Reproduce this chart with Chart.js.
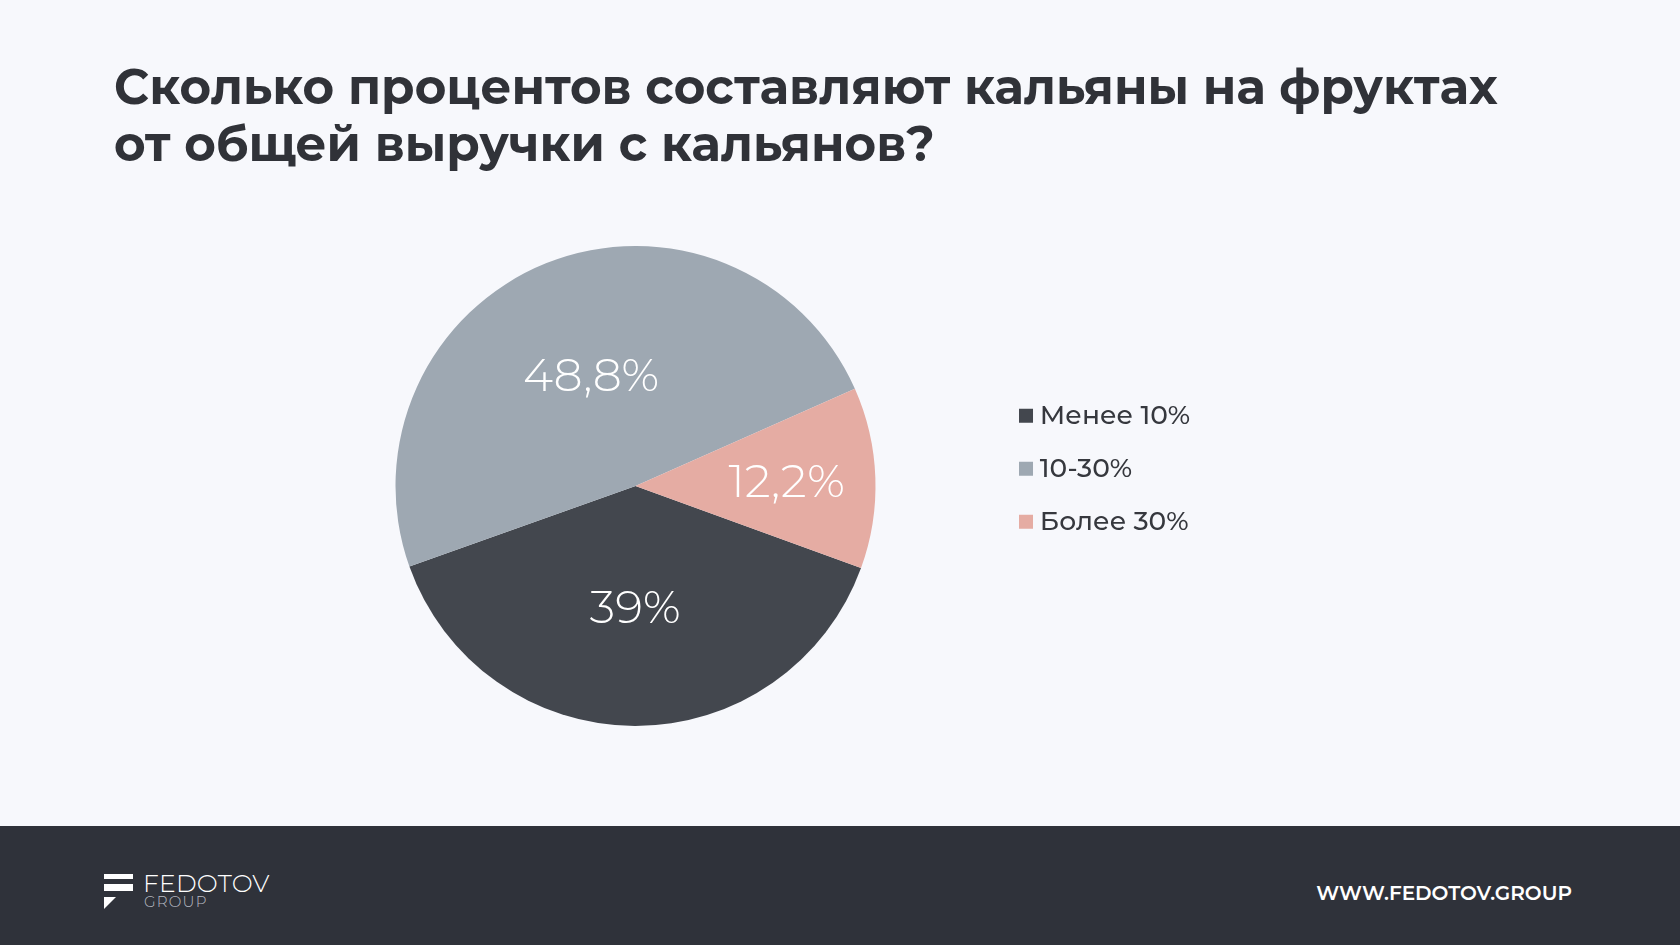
<!DOCTYPE html>
<html lang="ru">
<head>
<meta charset="utf-8">
<title>Кальяны на фруктах</title>
<script src="https://cdn.jsdelivr.net/npm/chart.js@4.4.1/dist/chart.umd.min.js"></script>
<style>
  html, body { margin: 0; padding: 0; }
  body {
    width: 1680px; height: 945px; position: relative; overflow: hidden;
    background: #f7f8fc;
    font-family: 'Montserrat', 'Inter', sans-serif;
  }
  #title {
    position: absolute; left: 114px; top: 58px;
    font-size: 48.4px; font-weight: 700; line-height: 57px;
    color: #303238;
  }
  #wrap { position: absolute; left: 272px; top: 246px; width: 960px; height: 480px; }
  #footer {
    position: absolute; left: 0; top: 826px; width: 1680px; height: 119px;
    background: #2f323a;
  }
  .bar { position: absolute; left: 104px; width: 29px; background: #fff; }
  #flag {
    position: absolute; left: 104px; top: 897px; width: 0; height: 0;
    border-top: 12px solid #fff; border-right: 12px solid transparent;
  }
  #brand {
    position: absolute; left: 143px; top: 868px;
    color: #fff; font-size: 25px; font-weight: 300; letter-spacing: 0.2px; line-height: 30px;
  }
  #group {
    position: absolute; left: 144px; top: 894px;
    color: #b9bcc4; font-size: 15px; font-weight: 300; letter-spacing: 1.2px; line-height: 16px;
  }
  #url {
    position: absolute; right: 108px; top: 880px;
    color: #fff; font-size: 20px; font-weight: 600; line-height: 26px;
  }
</style>
</head>
<body>
<div id="title">Сколько процентов составляют кальяны на фруктах<br>от общей выручки с кальянов?</div>

<div id="wrap"><canvas id="fruitChart"></canvas></div>

<div id="footer"></div>
<div class="bar" style="top:874px;height:5px"></div>
<div class="bar" style="top:884px;height:7px"></div>
<div id="flag"></div>
<div id="brand">FEDOTOV</div>
<div id="group">GROUP</div>
<div id="url">WWW.FEDOTOV.GROUP</div>

<script>
// data
const categories = ['Менее 10%', '10-30%', 'Более 30%'];
const shares = [39, 48.8, 12.2];
const sliceColors = ['#43474e', '#9ea8b2', '#e5aca3'];
// how far out (share of radius) each value label sits
const labelRadius = [0.5, 0.5, 0.63];

const fruitCtx = document.getElementById('fruitChart').getContext('2d');

// white value labels on the slices
const sliceLabels = {
    id: 'sliceLabels',
    afterDatasetsDraw(chart) {
        const meta = chart.getDatasetMeta(0);
        const ctx = chart.ctx;
        ctx.save();
        ctx.fillStyle = '#ffffff';
        ctx.font = "300 46px 'Montserrat', 'Inter', sans-serif";
        ctx.textAlign = 'center';
        ctx.textBaseline = 'middle';
        meta.data.forEach((arc, i) => {
            const p = arc.getProps(['x', 'y', 'startAngle', 'endAngle', 'outerRadius'], true);
            const mid = (p.startAngle + p.endAngle) / 2;
            const r = p.outerRadius * labelRadius[i];
            const text = String(shares[i]).replace('.', ',') + '%';
            ctx.fillText(text, p.x + Math.cos(mid) * r, p.y + Math.sin(mid) * r + 3);
        });
        ctx.restore();
    }
};

const chart = new Chart(fruitCtx, {
    type: 'pie',
    data: {
        labels: categories,
        datasets: [{
            data: shares,
            backgroundColor: sliceColors,
            borderWidth: 0
        }]
    },
    options: {
        responsive: true,
        maintainAspectRatio: false,
        animation: false,
        rotation: 110,
        layout: { padding: 0 },
        plugins: {
            tooltip: { enabled: false },
            legend: {
                position: 'right',
                align: 'start',
                // empty title only pushes the legend rows down
                title: { display: true, text: '', font: { size: 10, lineHeight: 1 }, padding: { top: 120, bottom: 0 } },
                labels: {
                    usePointStyle: true,
                    pointStyle: 'rect',
                    boxWidth: 1,
                    boxHeight: 14,
                    padding: 26.5,
                    color: '#36383e',
                    font: { family: "'Montserrat', 'Inter', sans-serif", size: 26.5, weight: '500' }
                }
            }
        }
    },
    plugins: [sliceLabels]
});

// keep the pie area 727px wide whatever the legend text measures
document.getElementById('wrap').style.width = (727 + chart.legend.width) + 'px';
chart.resize();
</script>
</body>
</html>
